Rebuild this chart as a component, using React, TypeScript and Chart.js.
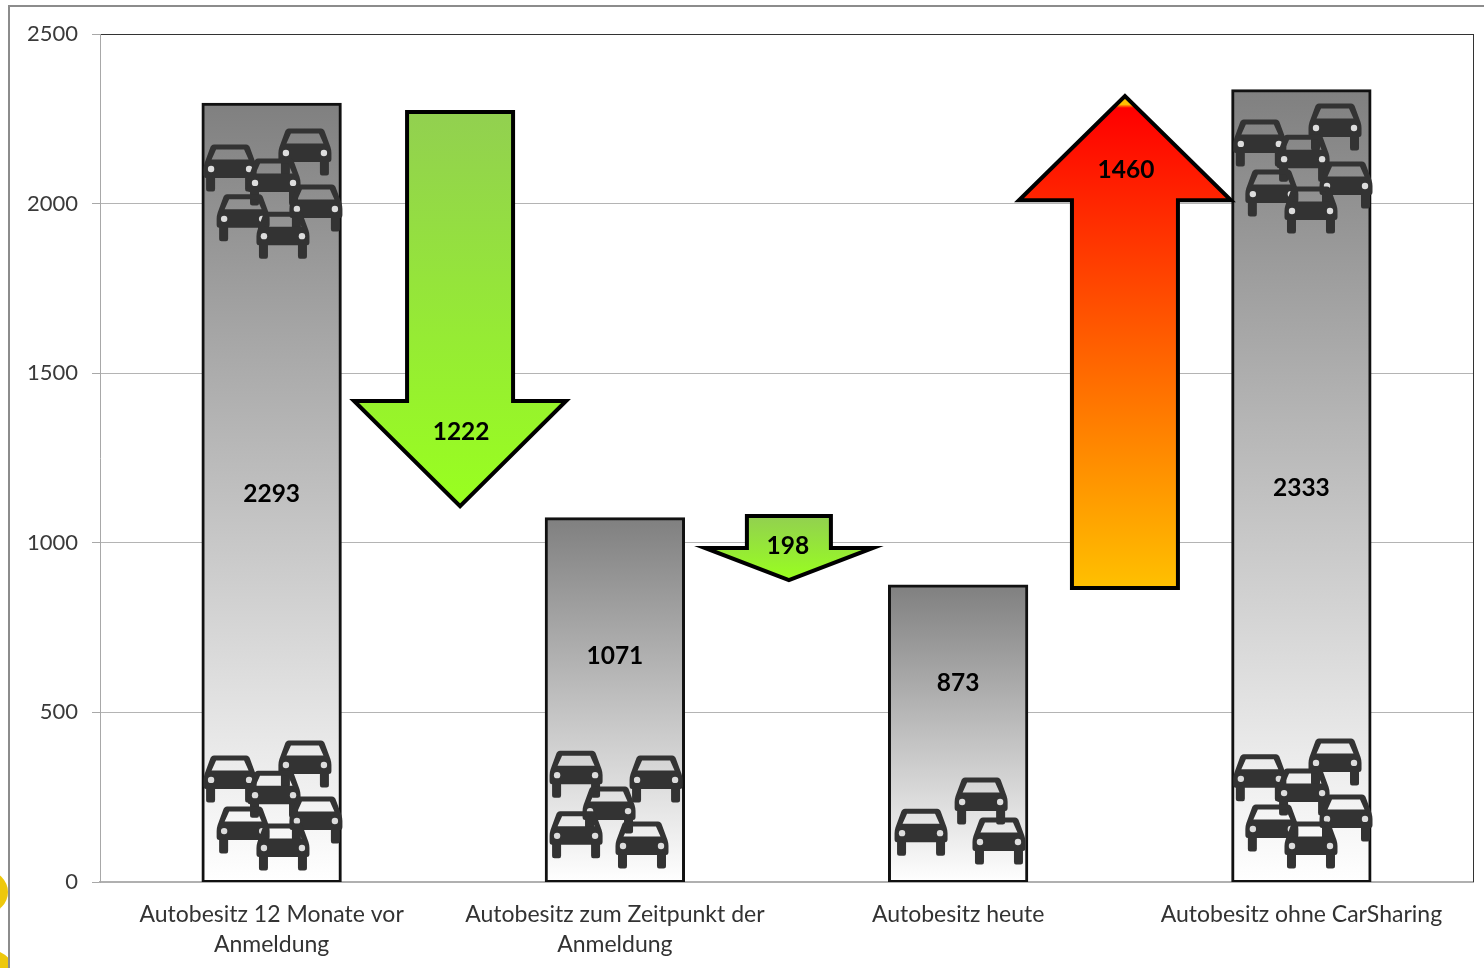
import React, { useEffect, useRef } from "react";
import { Chart, registerables } from "chart.js";

Chart.register(...registerables);

const categories = [
  ["Autobesitz 12 Monate vor", "Anmeldung"],
  ["Autobesitz zum Zeitpunkt der", "Anmeldung"],
  ["Autobesitz heute"],
  ["Autobesitz ohne CarSharing"],
];
const owners = [2293, 1071, 873, 2333];
const ownerLabelValues = [1144, 666, 587, 1162];

const arrowCategories = [0.549, 1.507, 2.486];
const arrowStart = [2270, 1079, 867];
const arrowNeck = [1418, 985, 2010];
const arrowTip = [1108, 890, 2317];
const arrowValues = [1222, 198, 1460];
const arrowLabelValues = [1327, 991, 2099];
const arrowLabelCategories = [0.552, 1.504, 2.489];

const carCategories = [
  -0.121, 0.097, 0.007, 0.129, -0.083, 0.033,
  -0.121, 0.097, 0.007, 0.129, -0.083, 0.033,
  0.887, 1.12, 0.983, 0.887, 1.079,
  1.892, 2.067, 2.119,
  2.879, 3.098, 3.005, 3.13, 2.914, 3.028,
  2.879, 3.098, 3.005, 3.13, 2.914, 3.028,
];
const carValues = [
  2105, 2152, 2064, 1987, 1958, 1907,
  304, 348, 259, 183, 153, 103,
  318, 304, 212, 139, 109,
  147, 239, 121,
  2179, 2226, 2134, 2055, 2031, 1981,
  307, 354, 265, 189, 159, 109,
];

const FONT = "Lato, Carlito, sans-serif";

function drawCar(ctx: CanvasRenderingContext2D, x: number, y: number) {
  ctx.save();
  ctx.translate(x, y);
  const p = new Path2D();
  p.moveTo(-16, -23.5);
  p.lineTo(16, -23.5);
  p.quadraticCurveTo(19, -23.5, 20, -20);
  p.lineTo(25.5, -5);
  p.quadraticCurveTo(26.5, -2, 26.5, 1);
  p.lineTo(26.5, 7);
  p.quadraticCurveTo(26.5, 10, 24, 10);
  p.lineTo(24, 21);
  p.quadraticCurveTo(24, 23.5, 21.5, 23.5);
  p.lineTo(17, 23.5);
  p.quadraticCurveTo(15, 23.5, 15, 21);
  p.lineTo(15, 10);
  p.lineTo(-15, 10);
  p.lineTo(-15, 21);
  p.quadraticCurveTo(-15, 23.5, -17, 23.5);
  p.lineTo(-21.5, 23.5);
  p.quadraticCurveTo(-24, 23.5, -24, 21);
  p.lineTo(-24, 10);
  p.quadraticCurveTo(-26.5, 10, -26.5, 7);
  p.lineTo(-26.5, 1);
  p.quadraticCurveTo(-26.5, -2, -25.5, -5);
  p.lineTo(-20, -20);
  p.quadraticCurveTo(-19, -23.5, -16, -23.5);
  p.closePath();
  p.moveTo(-14, -18.5);
  p.lineTo(-18.5, -8.5);
  p.lineTo(18.5, -8.5);
  p.lineTo(14, -18.5);
  p.closePath();
  ctx.fillStyle = "#333333";
  ctx.fill(p, "evenodd");
  ctx.fillStyle = "#dddddd";
  for (const s of [-1, 1]) {
    ctx.beginPath();
    ctx.arc(s * 19, 1, 3.2, 0, Math.PI * 2);
    ctx.fill();
  }
  ctx.restore();
}

const frame = {
  id: "frame",
  beforeDraw(chart: any) {
    const c = chart.ctx;
    c.save();
    c.fillStyle = "#ffffff";
    c.fillRect(0, 0, chart.width, chart.height);
    c.fillStyle = "#eec80c";
    c.beginPath();
    c.arc(-13, 892, 21, 0, Math.PI * 2);
    c.fill();
    c.beginPath();
    c.arc(-14, 982, 33, 0, Math.PI * 2);
    c.fill();
    c.fillStyle = "#ffffff";
    c.fillRect(9, 6, chart.width, chart.height);
    c.strokeStyle = "#8c8c8c";
    c.lineWidth = 2;
    c.beginPath();
    c.moveTo(9, chart.height);
    c.lineTo(9, 6);
    c.lineTo(chart.width, 6);
    c.stroke();
    c.restore();
  },
  beforeDatasetsDraw(chart: any) {
    const c = chart.ctx;
    const a = chart.chartArea;
    c.save();
    c.strokeStyle = "#333333";
    c.lineWidth = 1;
    c.beginPath();
    c.moveTo(Math.round(a.right) + 0.5, a.top);
    c.lineTo(Math.round(a.right) + 0.5, a.bottom);
    c.stroke();
    c.restore();
  },
};

const marks = {
  id: "marks",
  afterDatasetsDraw(chart: any) {
    const c = chart.ctx;
    const sx = chart.scales.x;
    const sy = chart.scales.y;

    carCategories.forEach((cat, i) => {
      drawCar(c, sx.getPixelForValue(cat), sy.getPixelForValue(carValues[i]));
    });

    const headHalf = [106, 84, 106];
    const shaftHalf = [53, 42, 53];
    arrowCategories.forEach((cat, i) => {
      const x = sx.getPixelForValue(cat);
      const y0 = sy.getPixelForValue(arrowStart[i]);
      const yn = sy.getPixelForValue(arrowNeck[i]);
      const yt = sy.getPixelForValue(arrowTip[i]);
      const h = headHalf[i];
      const s = shaftHalf[i];
      const g = c.createLinearGradient(0, Math.min(y0, yt), 0, Math.max(y0, yt));
      if (i === 2) {
        g.addColorStop(0, "#ffc000");
        g.addColorStop(0.017, "#ffc000");
        g.addColorStop(0.024, "#ff0000");
        g.addColorStop(1, "#ffc000");
      } else {
        g.addColorStop(0, "#92d050");
        g.addColorStop(1, "#99ff1f");
      }
      c.save();
      c.beginPath();
      c.moveTo(x - s, y0);
      c.lineTo(x + s, y0);
      c.lineTo(x + s, yn);
      c.lineTo(x + h, yn);
      c.lineTo(x, yt);
      c.lineTo(x - h, yn);
      c.lineTo(x - s, yn);
      c.closePath();
      c.fillStyle = g;
      c.fill();
      c.lineJoin = "miter";
      c.miterLimit = 10;
      c.lineWidth = 4;
      c.strokeStyle = "#000000";
      c.stroke();
      c.restore();
    });

    c.save();
    c.font = `bold 24.5px ${FONT}`;
    c.fillStyle = "#000000";
    c.textAlign = "center";
    c.textBaseline = "middle";
    owners.forEach((v, i) => {
      c.fillText(String(v), sx.getPixelForValue(i), sy.getPixelForValue(ownerLabelValues[i]));
    });
    arrowValues.forEach((v, i) => {
      c.fillText(String(v), sx.getPixelForValue(arrowLabelCategories[i]), sy.getPixelForValue(arrowLabelValues[i]));
    });
    c.restore();
  },
};

export default function App() {
  const ref = useRef<HTMLCanvasElement>(null);
  useEffect(() => {
    const chart = new Chart(ref.current as HTMLCanvasElement, {
      type: "bar",
      data: {
        labels: categories,
        datasets: [
          {
            data: owners,
            backgroundColor: (ctx: any) => {
              const { chart: ch, raw } = ctx;
              if (!ch.chartArea || raw === undefined) return "#999999";
              const y = ch.scales.y;
              const g = ch.ctx.createLinearGradient(0, y.getPixelForValue(raw), 0, y.getPixelForValue(0));
              g.addColorStop(0, "#808080");
              g.addColorStop(1, "#ffffff");
              return g;
            },
            borderColor: "#111111",
            borderWidth: 3,
            inflateAmount: 1.5,
            borderSkipped: false,
            categoryPercentage: 0.4,
            barPercentage: 1,
          },
        ],
      },
      options: {
        animation: false,
        responsive: false,
        layout: { padding: { top: 34, right: 11, left: 0, bottom: 0 } },
        plugins: { legend: { display: false }, tooltip: { enabled: false }, title: { display: false } },
        scales: {
          x: {
            afterFit: (s: any) => {
              s.height = 86;
            },
            grid: { display: false, drawTicks: false },
            border: { color: "#b0b0b0", width: 2 },
            ticks: {
              font: { family: FONT, size: 23, lineHeight: 1.3 },
              color: "#333333",
              padding: 18,
              maxRotation: 0,
              autoSkip: false,
            },
          },
          y: {
            min: 0,
            max: 2500,
            afterFit: (s: any) => {
              s.width = 100;
            },
            grid: {
              color: (ctx: any) => (ctx.tick.value === 2500 ? "#333333" : "#b4b4b4"),
              tickColor: "#a8a8a8",
              tickLength: 8,
              lineWidth: 1,
            },
            border: { color: "#a8a8a8", width: 1 },
            ticks: {
              stepSize: 500,
              callback: (v: any) => String(v),
              font: { family: FONT, size: 22 },
              color: "#3a3a3a",
              padding: 14,
            },
          },
        },
      },
      plugins: [frame, marks],
    } as any);
    return () => chart.destroy();
  }, []);
  return (
    <canvas
      ref={ref}
      width={1484}
      height={968}
      style={{ position: "absolute", left: 0, top: 0, width: 1484, height: 968 }}
    />
  );
}
